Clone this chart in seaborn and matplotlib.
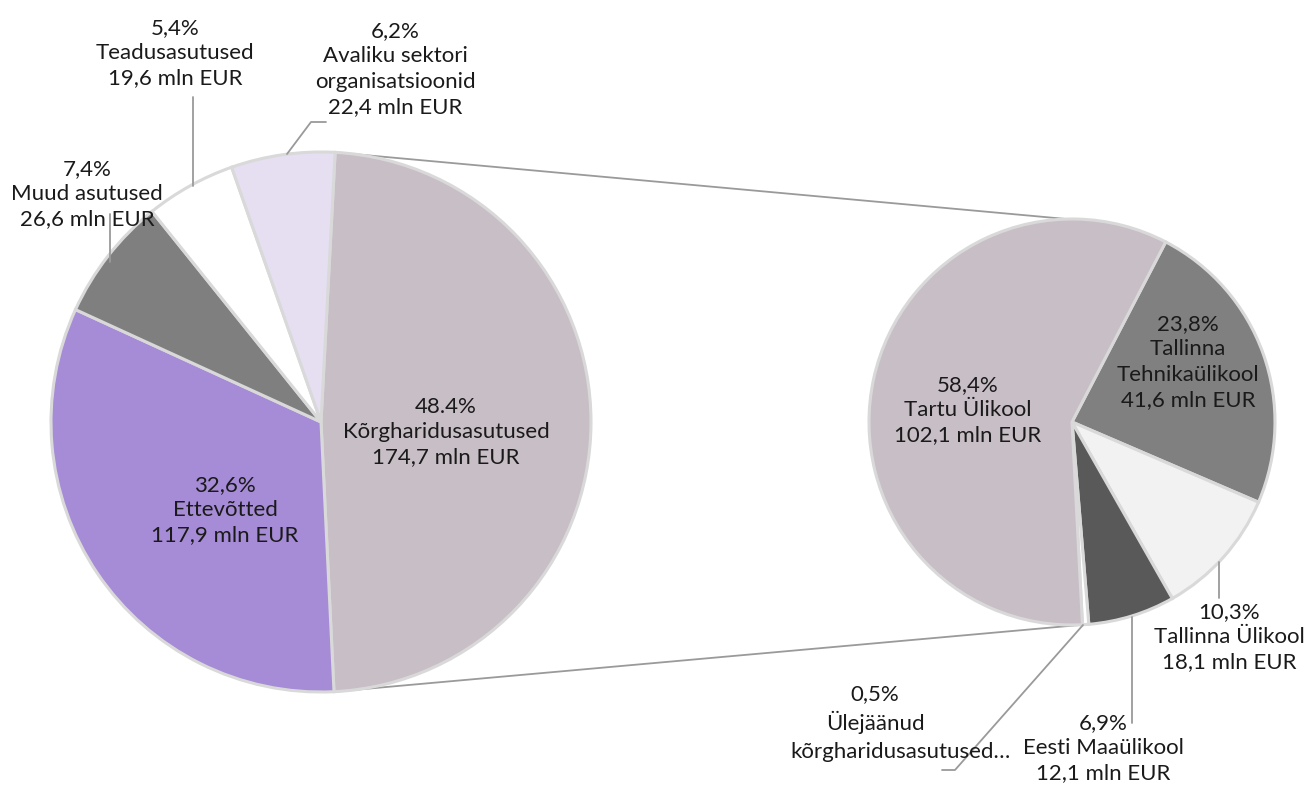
import numpy as np
import matplotlib
matplotlib.use("Agg")
import matplotlib.pyplot as plt
import seaborn as sns

# --- Data ---
main_names = ["Kõrgharidusasutused", "Ettevõtted", "Muud asutused", "Teadusasutused",
              "Avaliku sektori\norganisatsioonid"]
main_share = [48.4, 32.6, 7.4, 5.4, 6.2]
main_pct_text = ["48.4%", "32,6%", "7,4%", "5,4%", "6,2%"]
main_mln = [174.7, 117.9, 26.6, 19.6, 22.4]

uni_names = ["Tallinna\nTehnikaülikool", "Tallinna Ülikool", "Eesti Maaülikool",
             "Ülejäänud\nkõrgharidusasutused…", "Tartu Ülikool"]
uni_share = [23.8, 10.3, 6.9, 0.5, 58.4]
uni_pct_text = ["23,8%", "10,3%", "6,9%", "0,5%", "58,4%"]
uni_mln = [41.6, 18.1, 12.1, 0.9, 102.1]

main_colors = ["#c8bec6", "#a68bd6", "#7f7f7f", "#ffffff", "#e6dff2"]
uni_colors = ["#808080", "#f2f2f2", "#595959", "#ffffff", "#c8bec6"]

# --- Layout (pixels, y measured from top) ---
W, H = 1308, 785
LEFT_C, LEFT_R = (321, 422), 270
RIGHT_C, RIGHT_R = (1072, 422), 203
TXT = "#1a1a1a"
LINE = "#9a9a9a"


def flip(y):
    return H - y


def pt_on(center, r, deg):
    a = np.deg2rad(deg)
    return center[0] + r * np.cos(a), center[1] - r * np.sin(a)


def amount(v):
    return f"{v:.1f}".replace(".", ",") + " mln EUR"


sns.set_theme(style="white")
plt.rcParams["font.family"] = ["Lato", "DejaVu Sans"]

fig = plt.figure(figsize=(W / 100, H / 100), dpi=100)
ax = fig.add_axes([0, 0, 1, 1])

wp = dict(edgecolor="#d9d9d9", linewidth=2.2)
ax.pie(main_share, colors=main_colors, startangle=87, counterclock=False,
       center=(LEFT_C[0], flip(LEFT_C[1])), radius=LEFT_R, wedgeprops=wp)
ax.pie(uni_share, colors=uni_colors, startangle=62.5, counterclock=False,
       center=(RIGHT_C[0], flip(RIGHT_C[1])), radius=RIGHT_R, wedgeprops=wp)

# connector lines between the split slice and the second pie
split_span = main_share[0] / sum(main_share) * 360
top_l = pt_on(LEFT_C, LEFT_R, 87)
bot_l = pt_on(LEFT_C, LEFT_R, 87 - split_span)
top_r = pt_on(RIGHT_C, RIGHT_R, 91.4)
bot_r = pt_on(RIGHT_C, RIGHT_R, -87)
for a, b in [(top_l, top_r), (bot_l, bot_r)]:
    ax.plot([a[0], b[0]], [flip(a[1]), flip(b[1])], color=LINE, lw=1.3, zorder=0)

# label positions (label center x, y) and leader paths
main_pos = [(446, 432), (225, 510), (87, 194), (175, 53), (395, 69)]
uni_pos = [(1188, 362), (1229, 637), (1103, 748), (875, 709), (968, 410)]

fs = 16
ls = 1.33
for i, (x, y) in enumerate(main_pos):
    s = f"{main_pct_text[i]}\n{main_names[i]}\n{amount(main_mln[i])}"
    ax.text(x, flip(y), s, ha="center", va="center", fontsize=fs,
            color=TXT, linespacing=ls, multialignment="center")

for i, (x, y) in enumerate(uni_pos):
    if i == 3:
        # Excel cuts this label: last line is shifted right of the block
        first, second = uni_names[i].split("\n")
        ax.text(x, flip(y), f"{uni_pct_text[i]}\n{first}", ha="center", va="center",
                fontsize=fs, color=TXT, linespacing=ls)
        ax.text(901, flip(752), second, ha="center", va="center",
                fontsize=fs, color=TXT)
        continue
    s = f"{uni_pct_text[i]}\n{uni_names[i]}\n{amount(uni_mln[i])}"
    ax.text(x, flip(y), s, ha="center", va="center", fontsize=fs,
            color=TXT, linespacing=ls, multialignment="center")

leaders = [
    [(110, 214), (110, 262)],
    [(193, 97), (193, 186)],
    [(287, 154), (311, 122), (326, 122)],
    [(1219, 562), (1219, 598)],
    [(1132, 617), (1132, 723)],
    [(1083, 625), (955, 770), (942, 770)],
]
for path in leaders:
    xs = [p[0] for p in path]
    ys = [flip(p[1]) for p in path]
    ax.plot(xs, ys, color=LINE, lw=1.3)

ax.set_xlim(0, W)
ax.set_ylim(0, H)
ax.set_aspect("auto")
ax.axis("off")

fig.savefig("out.png", dpi=100, facecolor="white")
